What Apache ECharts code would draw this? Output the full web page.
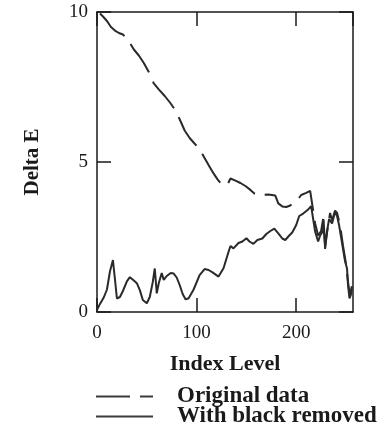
<!DOCTYPE html>
<html><head><meta charset="utf-8">
<script src="https://cdn.jsdelivr.net/npm/echarts@6/dist/echarts.min.js"></script>
<style>html,body{margin:0;padding:0;background:#fff}#c{width:388px;height:435px}</style>
</head><body><div id="c"></div>
<script>
// Index levels and Delta E values
const origX = [3, 6, 10, 14, 18, 22, 26, 31, 37, 42, 47, 52, 57, 62, 64, 68, 74, 80, 84, 88, 93, 97, 101, 106, 112, 117, 121, 124, 128, 131, 134, 139, 144, 149, 154, 158, 162, 166, 172, 179, 182, 186, 190, 194, 198, 201, 205, 210, 214, 216, 219, 222, 225, 227, 229, 232, 234, 236, 239, 241, 244, 247, 250, 252, 254, 256];
const origY = [9.95, 9.85, 9.7, 9.5, 9.38, 9.3, 9.25, 9.08, 8.75, 8.55, 8.3, 8.0, 7.62, 7.42, 7.45, 7.2, 6.95, 6.65, 6.35, 6.05, 5.8, 5.65, 5.5, 5.25, 4.9, 4.62, 4.42, 4.3, 4.22, 4.25, 4.45, 4.38, 4.3, 4.2, 4.07, 3.95, 3.9, 3.9, 3.92, 3.88, 3.62, 3.52, 3.5, 3.55, 3.65, 3.72, 3.9, 3.97, 4.04, 3.6, 2.95, 2.55, 2.7, 3.1, 2.2, 2.9, 3.3, 3.05, 3.38, 3.3, 2.9, 2.2, 1.6, 1.0, 0.5, 0.9];
const blackX = [0, 3, 7, 10, 13, 16, 18, 20, 23, 26, 30, 33, 37, 40, 43, 46, 50, 53, 56, 58, 60, 62, 65, 67, 70, 74, 77, 80, 83, 86, 89, 92, 97, 103, 108, 112, 116, 122, 127, 132, 134, 137, 142, 146, 150, 153, 157, 161, 166, 170, 174, 178, 182, 186, 189, 193, 196, 200, 203, 207, 212, 215, 217, 219, 222, 224, 226, 227.5, 229, 231, 233, 236, 239, 241, 243, 245, 247, 249, 251, 252, 253.5, 255, 256];
const blackY = [0.07, 0.27, 0.5, 0.75, 1.35, 1.73, 1.1, 0.45, 0.5, 0.7, 1.02, 1.16, 1.05, 0.96, 0.73, 0.4, 0.29, 0.5, 1.0, 1.45, 0.62, 0.96, 1.3, 1.07, 1.2, 1.3, 1.28, 1.15, 0.9, 0.6, 0.42, 0.46, 0.75, 1.23, 1.43, 1.4, 1.32, 1.18, 1.46, 2.0, 2.2, 2.12, 2.3, 2.35, 2.46, 2.35, 2.27, 2.4, 2.45, 2.6, 2.7, 2.78, 2.62, 2.45, 2.4, 2.55, 2.65, 2.9, 3.2, 3.28, 3.42, 3.53, 3.1, 2.68, 2.35, 2.55, 2.65, 3.07, 2.1, 2.7, 3.1, 2.95, 3.34, 3.2, 2.9, 2.5, 2.1, 1.7, 1.45, 0.9, 0.45, 0.6, 0.85];
const xTicks = [0, 100, 200];
const yTicks = [0, 5, 10];
const seriesNames = ['Original data', 'With black removed'];
const xName = 'Index Level';
const yName = 'Delta E';

const pairs = (xs, ys) => xs.map((x, i) => [x, ys[i]]);
const FONT = '"Liberation Serif", "Times New Roman", serif';
const INK = '#1a1a1a';

const frameAxis = () => ({
  axisLine: { show: true, onZero: false, lineStyle: { color: INK, width: 1.5 } },
  axisTick: { show: true, inside: true, length: 14, lineStyle: { color: INK, width: 1.5 } },
  splitLine: { show: false }
});

const legendText = { fontFamily: FONT, fontSize: 23, fontWeight: 'bold', color: INK, padding: [0, 0, 0, 19] };
const legendBase = {
  orient: 'horizontal', left: 95, itemWidth: 57, itemHeight: 14, padding: 0,
  textStyle: legendText, selectedMode: false,
  itemStyle: { opacity: 0, color: 'transparent', borderWidth: 0 },
  lineStyle: { width: 2, color: '#3a3a3a' }
};

const chart = echarts.init(document.getElementById('c'), null, { renderer: 'canvas' });
chart.setOption({
  backgroundColor: '#fff',
  animation: false,
  grid: { left: 97, right: 35, top: 12, bottom: 123, containLabel: false, outerBoundsMode: 'none' },
  xAxis: [
    Object.assign(frameAxis(), {
      type: 'value', position: 'bottom', min: 0, max: 257, interval: 100,
      axisLabel: { fontFamily: FONT, fontSize: 19, color: INK, margin: 12, showMaxLabel: false,
        formatter: v => xTicks.includes(v) ? String(v) : '' },
      name: xName, nameLocation: 'middle', nameGap: 41,
      nameTextStyle: { fontFamily: FONT, fontSize: 22, fontWeight: 'bold', color: INK }
    }),
    Object.assign(frameAxis(), {
      type: 'value', position: 'top', min: 0, max: 257, interval: 100,
      axisLabel: { show: false }
    })
  ],
  yAxis: [
    Object.assign(frameAxis(), {
      type: 'value', position: 'left', min: 0, max: 10, interval: 5,
      axisLabel: { fontFamily: FONT, fontSize: 19, color: INK, margin: 9,
        formatter: v => yTicks.includes(v) ? String(v) : '' },
      name: yName, nameLocation: 'middle', nameGap: 54,
      nameTextStyle: { fontFamily: FONT, fontSize: 21, fontWeight: 'bold', color: INK }
    }),
    Object.assign(frameAxis(), {
      type: 'value', position: 'right', min: 0, max: 10, interval: 5,
      axisLabel: { show: false }
    })
  ],
  legend: [
    Object.assign({}, legendBase, { top: 385, data: [seriesNames[0]] }),
    Object.assign({}, legendBase, { top: 405, data: [seriesNames[1]] })
  ],
  series: [
    {
      name: seriesNames[0], type: 'line', xAxisIndex: 0, yAxisIndex: 0,
      data: pairs(origX, origY), symbol: 'none', showSymbol: false, smooth: false,
      lineStyle: { color: '#2a2a2a', width: 2, type: [34, 10] },
      itemStyle: { color: '#2a2a2a' }
    },
    {
      name: seriesNames[1], type: 'line', xAxisIndex: 0, yAxisIndex: 0,
      data: pairs(blackX, blackY), symbol: 'none', showSymbol: false, smooth: false,
      lineStyle: { color: '#2a2a2a', width: 2, type: 'solid' },
      itemStyle: { color: '#2a2a2a' }
    }
  ]
});
</script>
</body></html>
